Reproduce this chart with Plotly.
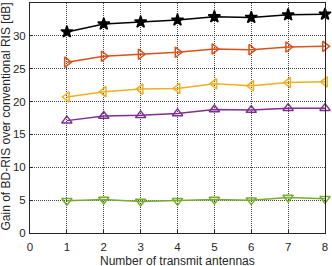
import plotly.graph_objects as go

antennas = [1, 2, 3, 4, 5, 6, 7, 8]
s_black = [30.6, 31.8, 32.1, 32.4, 32.9, 32.8, 33.2, 33.3]
s_orange = [26.0, 26.9, 27.2, 27.5, 28.0, 27.9, 28.3, 28.4]
s_yellow = [20.7, 21.5, 21.9, 22.0, 22.7, 22.4, 22.9, 23.0]
s_purple = [17.1, 17.8, 17.9, 18.2, 18.8, 18.7, 19.0, 19.0]
s_green = [4.9, 5.1, 4.8, 4.9, 5.1, 5.0, 5.4, 5.2]
x_ticks = [0, 1, 2, 3, 4, 5, 6, 7, 8]
y_ticks = [0, 5, 10, 15, 20, 25, 30, 35]
x_title = "Number of transmit antennas"
y_title = "Gain of BD-RIS over conventional RIS [dB]"

series = [
    (s_black, "#000000", "star", True),
    (s_orange, "#D95319", "triangle-right-open", False),
    (s_yellow, "#EDB120", "triangle-left-open", False),
    (s_purple, "#7E2F8E", "triangle-up-open", False),
    (s_green, "#77AC30", "triangle-down-open", False),
]

FONT = "Liberation Sans, Arial, Helvetica"
TXT = "#262626"

fig = go.Figure()
for ys, col, sym, filled in series:
    fig.add_trace(go.Scatter(
        x=antennas, y=ys, mode="lines+markers",
        line=dict(color=col, width=1.5),
        marker=dict(symbol=sym, size=9, color=col,
                    line=dict(color=col, width=1.5)),
        showlegend=False, cliponaxis=False,
    ))

axis_common = dict(
    showline=True, linecolor=TXT, linewidth=1, mirror=True,
    showgrid=True, gridcolor="#444444", griddash="1px,1px", gridwidth=1,
    ticks="inside", ticklen=3, tickcolor=TXT,
    tickfont=dict(family=FONT, size=11.5, color=TXT),
    zeroline=False, automargin=False,
)

fig.update_layout(
    width=332, height=266,
    margin=dict(l=30, r=7, t=3, b=33),
    paper_bgcolor="white", plot_bgcolor="white",
    font=dict(family=FONT, size=11, color=TXT),
    xaxis=dict(range=[0, 8], tickvals=x_ticks, ticklabelstandoff=3, **axis_common),
    yaxis=dict(range=[0, 35], tickvals=y_ticks, ticklabelstandoff=1, **axis_common),
    annotations=[
        dict(text=x_title, xref="paper", yref="paper", x=0.5, y=0,
             xanchor="center", yanchor="middle", yshift=-27.5, showarrow=False,
             font=dict(family=FONT, size=12, color=TXT)),
        dict(text=y_title, xref="paper", yref="paper", x=0, y=0.5,
             xanchor="center", yanchor="middle", xshift=-24.5, yshift=1,
             textangle=-90, showarrow=False,
             font=dict(family=FONT, size=12, color=TXT)),
    ],
)

fig.write_html("out.html", config={"displayModeBar": False},
               post_script="document.body.style.margin='0';document.body.style.padding='0';")
